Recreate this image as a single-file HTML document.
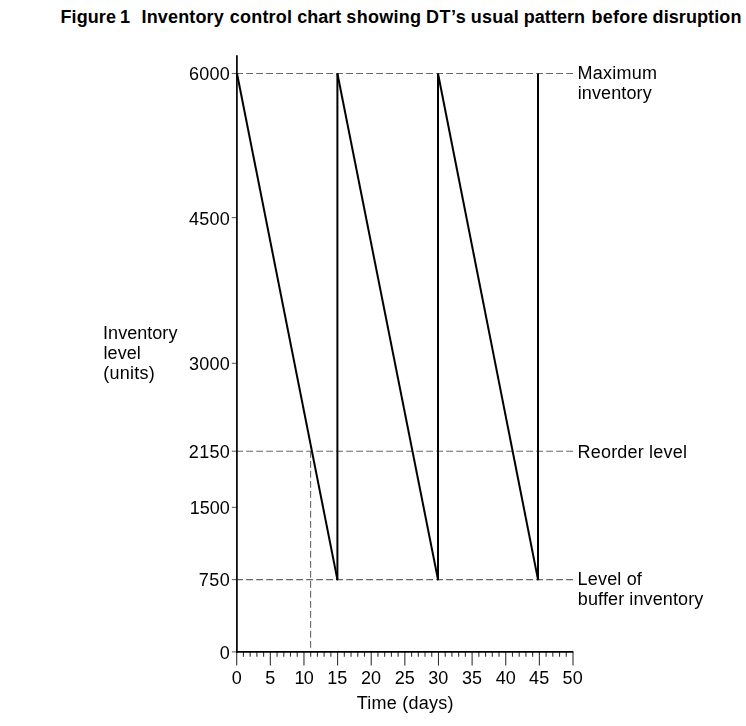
<!DOCTYPE html>
<html><head><meta charset="utf-8"><title>Figure 1 Inventory control chart</title>
<style>
html,body{margin:0;padding:0;background:#fff;}
body{width:746px;height:726px;overflow:hidden;}
svg{display:block;position:absolute;left:0;top:0;}
#c{will-change:transform;}
text{font-family:"Liberation Sans",Arial,sans-serif;font-size:18px;fill:#000;}
.b{font-weight:bold;}
</style></head><body>
<svg id="c" style="top:40px" width="746" height="686" viewBox="0 40 746 686">
<g stroke="#666" stroke-width="1.1" stroke-dasharray="6.8 3.2" fill="none">
<line x1="236.2" y1="73.5" x2="573" y2="73.5"/>
<line x1="236.2" y1="451.2" x2="573" y2="451.2"/>
<line x1="236.2" y1="579.6" x2="573" y2="579.6"/>
<line x1="310.6" y1="451" x2="310.6" y2="651"/>
</g>
<g stroke="#666" stroke-width="1.1">
<line x1="231.8" y1="73.5" x2="237" y2="73.5"/>
<line x1="231.8" y1="217.6" x2="237" y2="217.6"/>
<line x1="231.8" y1="363.3" x2="237" y2="363.3"/>
<line x1="231.8" y1="451.2" x2="237" y2="451.2"/>
<line x1="231.8" y1="507.4" x2="237" y2="507.4"/>
<line x1="231.8" y1="579.6" x2="237" y2="579.6"/>
<line x1="231.8" y1="651.9" x2="237" y2="651.9"/>
</g>
<g stroke="#333" stroke-width="1.1">
<line x1="236.70" y1="651.9" x2="236.70" y2="665.6"/>
<line x1="243.43" y1="651.9" x2="243.43" y2="656.7"/>
<line x1="250.15" y1="651.9" x2="250.15" y2="656.7"/>
<line x1="256.88" y1="651.9" x2="256.88" y2="656.7"/>
<line x1="263.60" y1="651.9" x2="263.60" y2="656.7"/>
<line x1="270.33" y1="651.9" x2="270.33" y2="665.6"/>
<line x1="277.06" y1="651.9" x2="277.06" y2="656.7"/>
<line x1="283.78" y1="651.9" x2="283.78" y2="656.7"/>
<line x1="290.51" y1="651.9" x2="290.51" y2="656.7"/>
<line x1="297.23" y1="651.9" x2="297.23" y2="656.7"/>
<line x1="303.96" y1="651.9" x2="303.96" y2="665.6"/>
<line x1="310.69" y1="651.9" x2="310.69" y2="656.7"/>
<line x1="317.41" y1="651.9" x2="317.41" y2="656.7"/>
<line x1="324.14" y1="651.9" x2="324.14" y2="656.7"/>
<line x1="330.86" y1="651.9" x2="330.86" y2="656.7"/>
<line x1="337.59" y1="651.9" x2="337.59" y2="665.6"/>
<line x1="344.32" y1="651.9" x2="344.32" y2="656.7"/>
<line x1="351.04" y1="651.9" x2="351.04" y2="656.7"/>
<line x1="357.77" y1="651.9" x2="357.77" y2="656.7"/>
<line x1="364.49" y1="651.9" x2="364.49" y2="656.7"/>
<line x1="371.22" y1="651.9" x2="371.22" y2="665.6"/>
<line x1="377.95" y1="651.9" x2="377.95" y2="656.7"/>
<line x1="384.67" y1="651.9" x2="384.67" y2="656.7"/>
<line x1="391.40" y1="651.9" x2="391.40" y2="656.7"/>
<line x1="398.12" y1="651.9" x2="398.12" y2="656.7"/>
<line x1="404.85" y1="651.9" x2="404.85" y2="665.6"/>
<line x1="411.58" y1="651.9" x2="411.58" y2="656.7"/>
<line x1="418.30" y1="651.9" x2="418.30" y2="656.7"/>
<line x1="425.03" y1="651.9" x2="425.03" y2="656.7"/>
<line x1="431.75" y1="651.9" x2="431.75" y2="656.7"/>
<line x1="438.48" y1="651.9" x2="438.48" y2="665.6"/>
<line x1="445.21" y1="651.9" x2="445.21" y2="656.7"/>
<line x1="451.93" y1="651.9" x2="451.93" y2="656.7"/>
<line x1="458.66" y1="651.9" x2="458.66" y2="656.7"/>
<line x1="465.38" y1="651.9" x2="465.38" y2="656.7"/>
<line x1="472.11" y1="651.9" x2="472.11" y2="665.6"/>
<line x1="478.84" y1="651.9" x2="478.84" y2="656.7"/>
<line x1="485.56" y1="651.9" x2="485.56" y2="656.7"/>
<line x1="492.29" y1="651.9" x2="492.29" y2="656.7"/>
<line x1="499.01" y1="651.9" x2="499.01" y2="656.7"/>
<line x1="505.74" y1="651.9" x2="505.74" y2="665.6"/>
<line x1="512.47" y1="651.9" x2="512.47" y2="656.7"/>
<line x1="519.19" y1="651.9" x2="519.19" y2="656.7"/>
<line x1="525.92" y1="651.9" x2="525.92" y2="656.7"/>
<line x1="532.64" y1="651.9" x2="532.64" y2="656.7"/>
<line x1="539.37" y1="651.9" x2="539.37" y2="665.6"/>
<line x1="546.10" y1="651.9" x2="546.10" y2="656.7"/>
<line x1="552.82" y1="651.9" x2="552.82" y2="656.7"/>
<line x1="559.55" y1="651.9" x2="559.55" y2="656.7"/>
<line x1="566.27" y1="651.9" x2="566.27" y2="656.7"/>
<line x1="573.00" y1="651.9" x2="573.00" y2="665.6"/>
</g>
<g stroke="#000" stroke-width="1.7" fill="none">
<line x1="236.9" y1="55.2" x2="236.9" y2="652.6999999999999"/>
<line x1="236" y1="651.9" x2="573.3" y2="651.9"/>
</g>
<g stroke="#000" stroke-width="2" stroke-linecap="butt">
<line x1="237" y1="73.5" x2="337.4" y2="579.6"/>
<line x1="337.4" y1="579.6" x2="337.4" y2="73.5"/>
<line x1="337.4" y1="73.5" x2="438" y2="579.6"/>
<line x1="438" y1="579.6" x2="438" y2="73.5"/>
<line x1="438" y1="73.5" x2="538" y2="579.6"/>
<line x1="538" y1="579.6" x2="538" y2="73.5"/>
</g>
<circle cx="337.29999999999995" cy="579.4" r="1" fill="#000"/>
<circle cx="437.9" cy="579.4" r="1" fill="#000"/>
<circle cx="537.9" cy="579.4" r="1" fill="#000"/>
<text x="577.49" y="78.9" textLength="79.45" lengthAdjust="spacing">Maximum</text>
<text x="577.71" y="98.8" textLength="73.96" lengthAdjust="spacing">inventory</text>
<text x="577.59" y="457.6" textLength="109.29" lengthAdjust="spacing">Reorder level</text>
<text x="577.59" y="585.0" textLength="64.27" lengthAdjust="spacing">Level of</text>
<text x="577.83" y="604.6" textLength="125.51" lengthAdjust="spacing">buffer inventory</text>
<text x="356.75" y="708.9" textLength="96.84" lengthAdjust="spacing">Time (days)</text>
<text x="103.04" y="339.0" textLength="74.34" lengthAdjust="spacing">Inventory</text>
<text x="103.41" y="358.9" textLength="37.44" lengthAdjust="spacing">level</text>
<text x="103.37" y="378.9" textLength="51.45" lengthAdjust="spacing">(units)</text>
<text x="188.95" y="80.30000000000001" textLength="40.91" lengthAdjust="spacing">6000</text>
<text x="188.95" y="224.5" textLength="40.9" lengthAdjust="spacing">4500</text>
<text x="188.97" y="370.2" textLength="40.88" lengthAdjust="spacing">3000</text>
<text x="188.87" y="458.09999999999997" textLength="40.99" lengthAdjust="spacing">2150</text>
<text x="189.81" y="514.3">1500</text>
<text x="198.85" y="586.4" textLength="31.01" lengthAdjust="spacing">750</text>
<text x="219.81" y="658.8">0</text>
<text x="231.79" y="683.6" textLength="10.14" lengthAdjust="spacing">0</text>
<text x="265.25" y="683.6">5</text>
<text x="294.38" y="683.6" textLength="19.45" lengthAdjust="spacing">10</text>
<text x="327.22" y="683.6">15</text>
<text x="361.11" y="683.6">20</text>
<text x="394.77" y="683.6">25</text>
<text x="428.37" y="683.6">30</text>
<text x="462.03" y="683.6">35</text>
<text x="495.82" y="683.6">40</text>
<text x="528.95" y="683.6" textLength="20.34" lengthAdjust="spacing">45</text>
<text x="562.47" y="683.6" textLength="20.27" lengthAdjust="spacing">50</text>
</svg>
<svg id="t" width="746" height="40" viewBox="0 0 746 40">
<text class="b" x="60.46" y="23.1" textLength="55.53" lengthAdjust="spacing">Figure</text>
<text class="b" x="120.07" y="23.1" textLength="8.94" lengthAdjust="spacing">1</text>
<text class="b" x="141.51" y="23.1" textLength="82.25" lengthAdjust="spacing">Inventory</text>
<text class="b" x="229.77" y="23.1" textLength="62.27" lengthAdjust="spacing">control</text>
<text class="b" x="297.27" y="23.1" textLength="43.89" lengthAdjust="spacing">chart</text>
<text class="b" x="346.35" y="23.1" textLength="74.69" lengthAdjust="spacing">showing</text>
<text class="b" x="426.11" y="23.1" textLength="39.6" lengthAdjust="spacing">DT’s</text>
<text class="b" x="470.67" y="23.1" textLength="48.08" lengthAdjust="spacing">usual</text>
<text class="b" x="523.81" y="23.1" textLength="61.19" lengthAdjust="spacing">pattern</text>
<text class="b" x="591.51" y="23.1" textLength="56.18" lengthAdjust="spacing">before</text>
<text class="b" x="652.55" y="23.1" textLength="88.84" lengthAdjust="spacing">disruption</text>
</svg>
</body></html>
